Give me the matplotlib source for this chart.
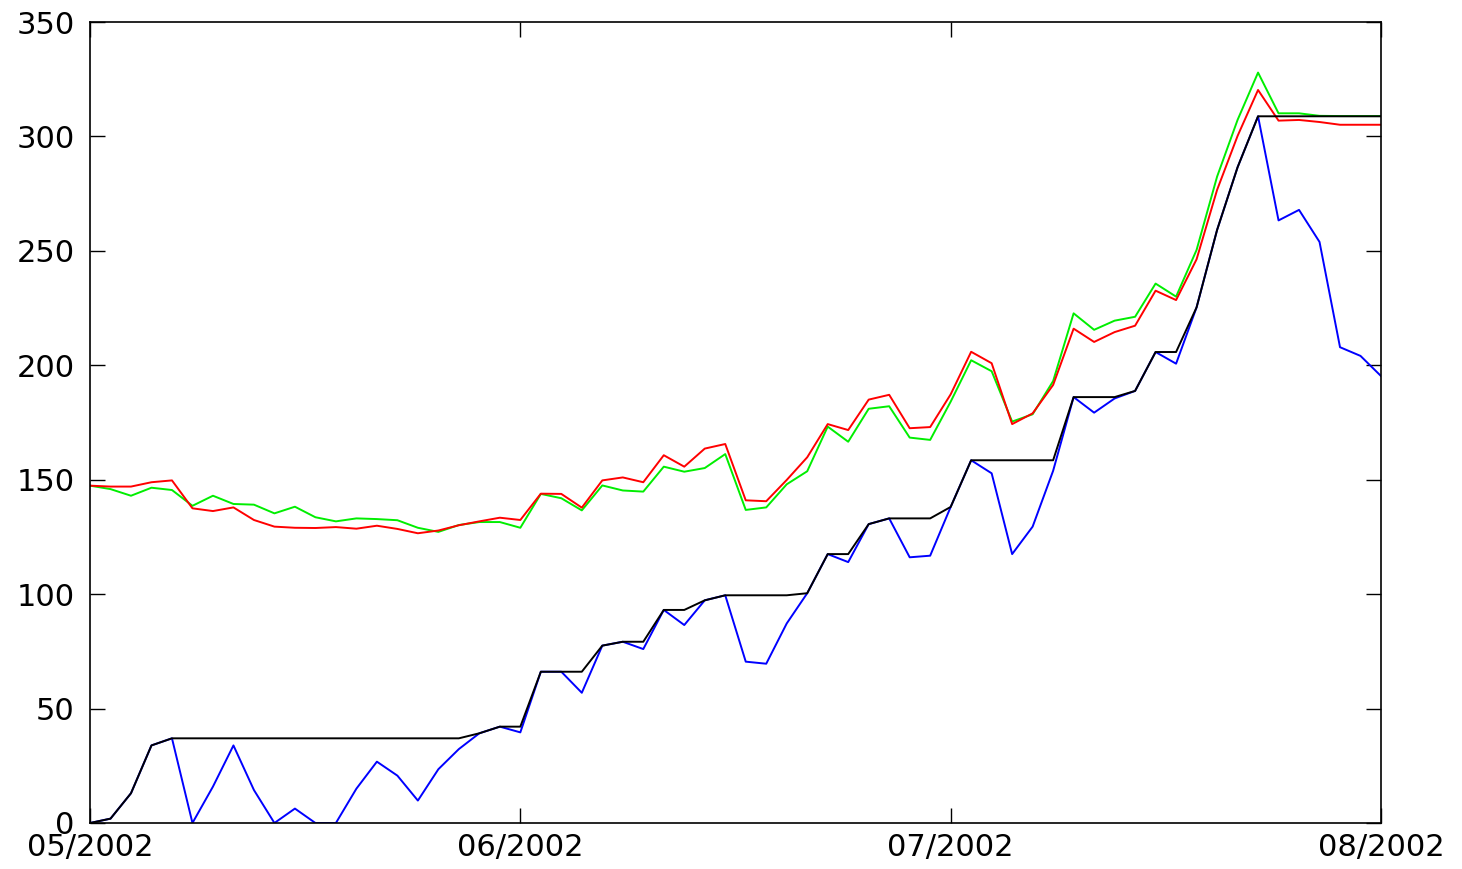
import matplotlib
matplotlib.use("Agg")
import matplotlib.pyplot as plt

plt.rcParams['font.family'] = ['DejaVu Sans']

month_labels = ["05/2002", "06/2002", "07/2002", "08/2002"]
month_pos = [0, 21, 42, 63]

green = [147.4, 145.9, 143.0, 146.5, 145.5, 138.6, 143.0, 139.4, 139.1, 135.3,
         138.2, 133.6, 131.8, 133.1, 132.8, 132.3, 129.0, 127.2, 130.2, 131.5,
         131.5, 129.0, 143.8, 141.9, 136.6, 147.5, 145.3, 144.8, 155.7, 153.5,
         155.1, 161.2, 136.8, 137.9, 148.0, 153.7, 173.2, 166.6, 181.0, 182.1,
         168.4, 167.4, 184.1, 202.2, 197.4, 175.4, 178.6, 193.1, 222.7, 215.5,
         219.5, 221.2, 235.7, 230.0, 250.4, 282.4, 307.2, 327.9, 310.1, 310.1,
         309.0, 308.9, 308.9, 308.9]

red = [147.4, 147.0, 147.0, 148.9, 149.7, 137.5, 136.3, 137.9, 132.4, 129.5,
       129.0, 128.9, 129.3, 128.6, 129.9, 128.5, 126.6, 127.8, 130.1, 131.8,
       133.4, 132.4, 143.9, 143.8, 137.8, 149.7, 151.0, 148.9, 160.7, 155.7,
       163.6, 165.6, 141.0, 140.6, 149.9, 159.8, 174.3, 171.7, 185.0, 187.1,
       172.5, 173.0, 187.3, 205.9, 200.9, 174.3, 179.0, 191.4, 216.0, 210.2,
       214.5, 217.3, 232.6, 228.5, 246.3, 276.6, 300.2, 320.3, 306.9, 307.2,
       306.3, 305.1, 305.1, 305.1]

blue = [0.0, 1.9, 13.0, 33.9, 37.0, 0.0, 15.9, 33.9, 14.4, 0.0,
        6.3, 0.0, 0.0, 15.0, 26.8, 20.7, 9.8, 23.5, 32.3, 39.2,
        42.1, 39.6, 66.1, 66.1, 56.9, 77.5, 79.2, 76.0, 93.1, 86.5,
        97.3, 99.5, 70.5, 69.6, 87.2, 100.4, 117.5, 114.0, 130.6, 133.1,
        116.1, 116.8, 138.1, 158.5, 152.8, 117.5, 129.5, 153.9, 186.1, 179.3,
        185.5, 188.8, 205.8, 200.7, 225.3, 259.1, 286.5, 308.8, 263.3, 267.9,
        253.9, 207.9, 204.1, 195.3]

black = [0.0, 1.9, 13.0, 33.9, 37.0, 37.0, 37.0, 37.0, 37.0, 37.0,
         37.0, 37.0, 37.0, 37.0, 37.0, 37.0, 37.0, 37.0, 37.0, 39.2,
         42.1, 42.1, 66.1, 66.1, 66.1, 77.5, 79.2, 79.2, 93.1, 93.1,
         97.3, 99.5, 99.5, 99.5, 99.5, 100.4, 117.5, 117.5, 130.6, 133.1,
         133.1, 133.1, 138.1, 158.5, 158.5, 158.5, 158.5, 158.5, 186.1, 186.1,
         186.1, 188.8, 205.8, 205.8, 225.3, 259.1, 286.5, 308.8, 308.8, 308.8,
         308.8, 308.8, 308.8, 308.8]

x = list(range(len(green)))

fig = plt.figure(figsize=(14.62, 8.69), dpi=100)
ax = fig.add_axes([90 / 1462, 46 / 869, 1291 / 1462, 801 / 869])

ax.plot(x, green, color="#00ee00", lw=1.4)
ax.plot(x, red, color="#ff0000", lw=1.4)
ax.plot(x, blue, color="#0000ff", lw=1.4)
ax.plot(x, black, color="black", lw=1.4)

ax.set_xlim(0, 63)
ax.set_ylim(0, 350)
ax.set_xticks(month_pos)
ax.set_xticklabels(month_labels)
ax.set_yticks(range(0, 351, 50))

ax.tick_params(direction="in", length=11, width=1, top=True, right=True,
               labelsize=22)
ax.tick_params(axis="x", pad=7)
ax.tick_params(axis="y", pad=11)
for s in ax.spines.values():
    s.set_linewidth(1.2)

fig.savefig("out.png", dpi=100)
